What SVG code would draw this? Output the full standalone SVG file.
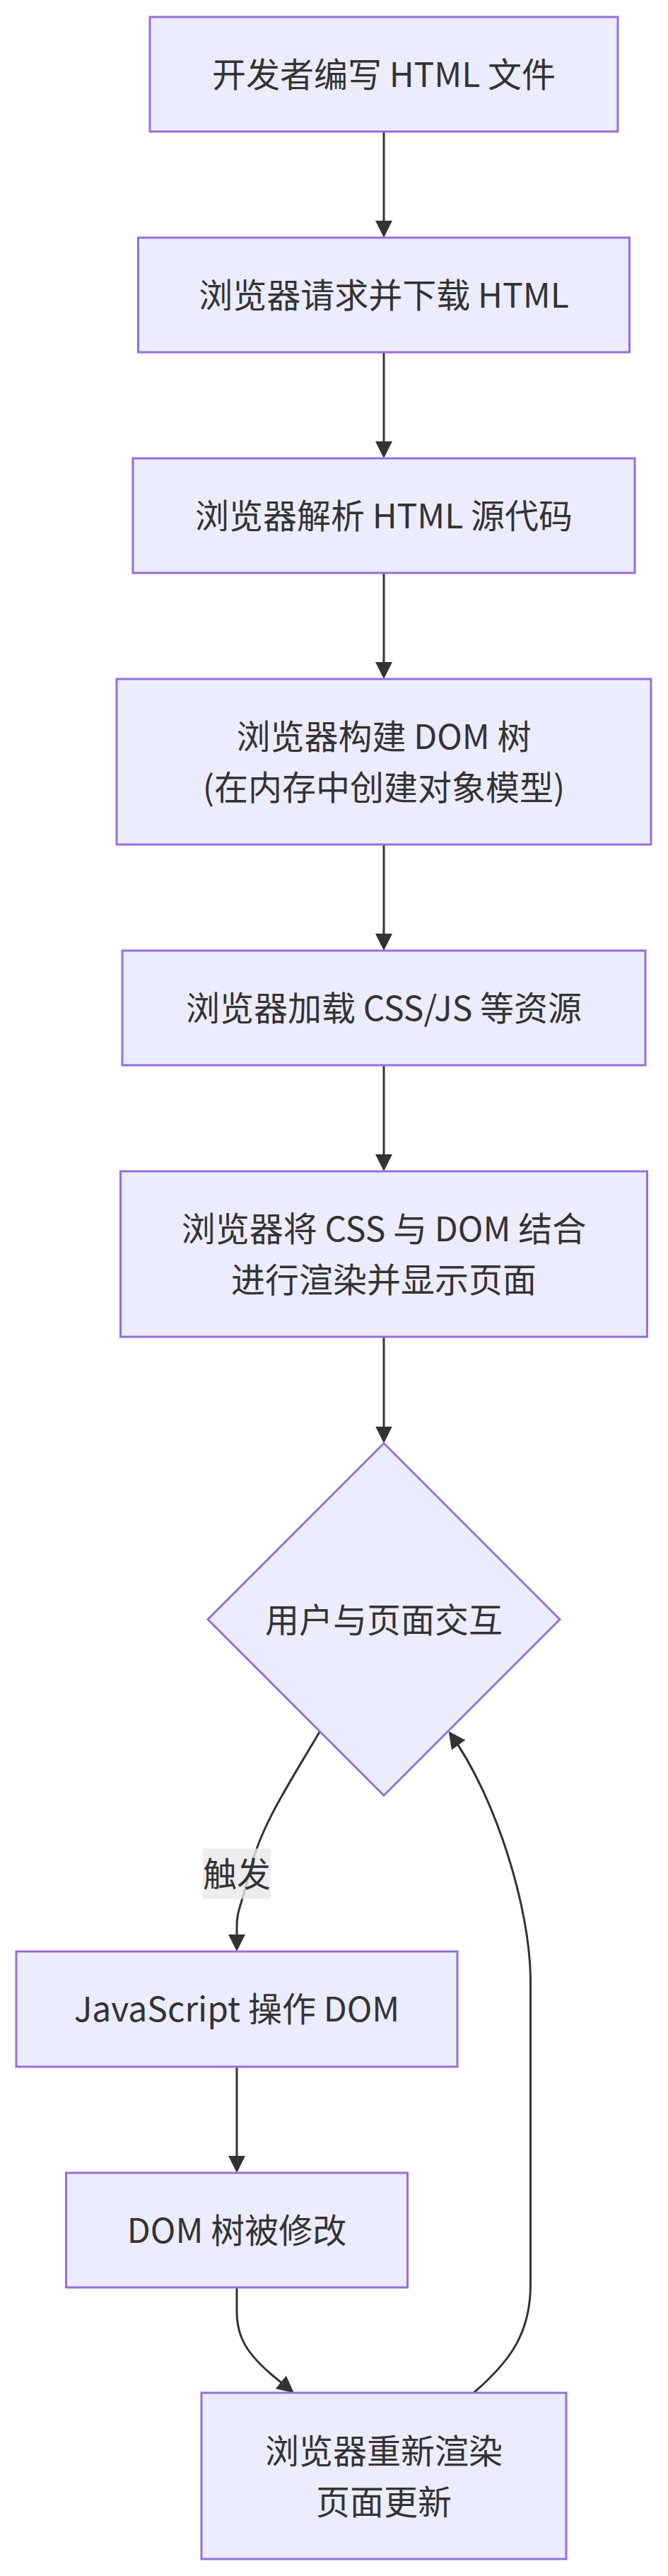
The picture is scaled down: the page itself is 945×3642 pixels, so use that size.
<svg xmlns="http://www.w3.org/2000/svg" width="945" height="3642" viewBox="0 0 945 3642">
<style>
.node rect, .node polygon { fill: #ECECFF; stroke: #9370DB; stroke-width: 3; }
.t { font-family: "Noto Sans CJK SC", "Noto Sans", sans-serif; font-size: 48px; fill: #333333; text-anchor: middle; }
.edge { fill: none; stroke: #333333; stroke-width: 3; }
</style>
<defs>
<marker id="arrow" viewBox="0 0 10 10" refX="8.33" refY="5" markerUnits="userSpaceOnUse" markerWidth="24" markerHeight="24" orient="auto">
<path d="M0,0 L10,5 L0,10 z" fill="#333333"/>
</marker>
</defs>
<rect width="945" height="3642" fill="#ffffff"/>
<g id="connectors">
<path class="edge" d="M543,186 L543,332" marker-end="url(#arrow)"/>
<path class="edge" d="M543,498 L543,644" marker-end="url(#arrow)"/>
<path class="edge" d="M543,810 L543,956" marker-end="url(#arrow)"/>
<path class="edge" d="M543,1194 L543,1340" marker-end="url(#arrow)"/>
<path class="edge" d="M543,1506 L543,1652" marker-end="url(#arrow)"/>
<path class="edge" d="M543,1890 L543,2036.5" marker-end="url(#arrow)"/>
<path class="edge" d="M452.5,2448 C410,2520 370,2580 355,2640 S335,2700 335,2725 L335,2755" marker-end="url(#arrow)"/>
<path class="edge" d="M335,2922 L335,3068" marker-end="url(#arrow)"/>
<path class="edge" d="M335,3234 L335,3268 C335,3305 350,3328 385,3358 L412.8,3380.6" marker-end="url(#arrow)"/>
<path class="edge" d="M670,3383 C720,3340 750.5,3300 750.5,3230 L750.5,2800 C750.5,2700 702,2541 637,2451" marker-end="url(#arrow)"/>
<g id="edge-label">
<rect x="287" y="2613.5" width="96" height="71" fill="rgba(232,232,232,0.8)"/>
<text class="t" x="335" y="2667">触发</text>
</g>
</g>
<g id="n1" class="node"><rect x="212" y="24" width="662" height="162"/><text class="t" x="543" y="123">开发者编写 HTML 文件</text></g>
<g id="n2" class="node"><rect x="195.5" y="336" width="695" height="162"/><text class="t" x="543" y="435">浏览器请求并下载 HTML</text></g>
<g id="n3" class="node"><rect x="188" y="648" width="710" height="162"/><text class="t" x="543" y="747">浏览器解析 HTML 源代码</text></g>
<g id="n4" class="node"><rect x="165" y="960" width="756" height="234"/><text class="t" x="543" y="1059">浏览器构建 DOM 树</text><text class="t" x="543" y="1131">(在内存中创建对象模型)</text></g>
<g id="n5" class="node"><rect x="173" y="1344" width="740" height="162"/><text class="t" x="543" y="1443">浏览器加载 CSS/JS 等资源</text></g>
<g id="n6" class="node"><rect x="170.5" y="1656" width="745" height="234"/><text class="t" x="543" y="1755">浏览器将 CSS 与 DOM 结合</text><text class="t" x="543" y="1827">进行渲染并显示页面</text></g>
<g id="n7" class="node"><polygon points="543,2040.5 792,2289.5 543,2538.5 294,2289.5"/><text class="t" x="543" y="2307.5">用户与页面交互</text></g>
<g id="n8" class="node"><rect x="23" y="2759" width="624" height="163"/><text class="t" x="335" y="2858">JavaScript 操作 DOM</text></g>
<g id="n9" class="node"><rect x="93.5" y="3072" width="483" height="162"/><text class="t" x="335" y="3171">DOM 树被修改</text></g>
<g id="n10" class="node"><rect x="285" y="3383" width="516" height="235"/><text class="t" x="543" y="3482.5">浏览器重新渲染</text><text class="t" x="543" y="3554.5">页面更新</text></g>
</svg>
